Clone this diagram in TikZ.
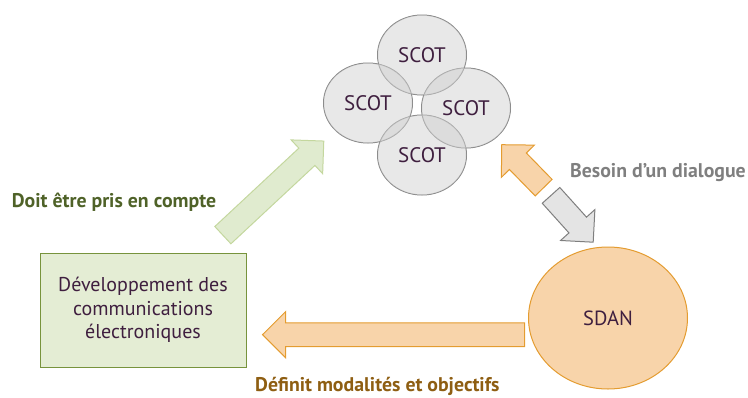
\documentclass[tikz,border=0pt]{standalone}
\usepackage{fontspec}
\setmainfont{PT Sans}
\usetikzlibrary{shapes.geometric,shapes.arrows,positioning}
\definecolor{inkpurple}{RGB}{63,31,63}
\definecolor{scotfill}{RGB}{207,207,207}
\definecolor{scotline}{RGB}{127,127,127}
\definecolor{devfill}{RGB}{228,237,212}
\definecolor{devline}{RGB}{119,147,60}
\definecolor{greenarrow}{RGB}{224,235,207}
\definecolor{greenarrowline}{RGB}{196,215,158}
\definecolor{peach}{RGB}{248,212,170}
\definecolor{orangeline}{RGB}{228,156,48}
\definecolor{grayarrow}{RGB}{228,228,228}
\definecolor{greentext}{RGB}{79,98,40}
\definecolor{graytext}{RGB}{127,127,127}
\definecolor{browntext}{RGB}{142,94,18}
\tikzstyle{scotrim} = [ellipse, draw=scotline, line width=1pt, minimum width=89pt, minimum height=80pt, inner sep=0pt]
\tikzstyle{scot} = [ellipse, minimum width=89pt, minimum height=80pt, inner sep=0pt, fill=scotfill, fill opacity=0.48, text opacity=1, text=inkpurple, font=\fontsize{21}{24}\selectfont]
\tikzstyle{sdan} = [ellipse, draw=orangeline, fill=peach, line width=1pt, minimum width=159pt, minimum height=142pt, inner sep=0pt, text=inkpurple, font=\fontsize{20.5}{24}\selectfont]
\tikzstyle{devbox} = [draw=devline, fill=devfill, rectangle, line width=1pt, minimum width=206pt, minimum height=114pt, align=center, text=inkpurple, font=\fontsize{20}{23.5}\selectfont]
\tikzstyle{blockarrow} = [single arrow, line width=1pt, inner xsep=0pt, inner ysep=11.3pt, text height=0pt, text depth=0pt, single arrow head extend=11.3pt, anchor=tail]
\tikzstyle{caption} = [inner sep=0pt, anchor=base west, font=\bfseries\fontsize{19.8}{22}\selectfont]

\begin{document}
\begin{tikzpicture}[x=1pt, y=-1pt]
    \useasboundingbox (0,0) rectangle (748,397);
    % rims of the four SCOT first, so that the fills lighten the inner arcs
    \foreach \pos [count=\i] in {{422,55}, {368,103}, {466,108}, {422,155}}
        \node[scotrim] (rim\i) at (\pos) {};
    \node[scot] (scottop) at (422,55) {SCOT};
    \node[scot] (scotleft) at (368,103) {SCOT};
    \node[scot] (scotright) at (466,108) {SCOT};
    \node[scot] (scotbottom) at (422,155) {SCOT};
    \node[sdan] (sdan) at (608,318) {SDAN};
    \node[devbox] (dev) at (143,310) {Développement des\\communications\\électroniques};
    % block arrows
    \node[blockarrow, fill=greenarrow, draw=greenarrowline, rotate=43, minimum height=138pt] (pris) at (222.5,235.5) {};
    \node[blockarrow, fill=peach, draw=orangeline, rotate=134.3, minimum height=60pt] (versscot) at (544,188) {};
    \node[blockarrow, fill=grayarrow, draw=scotline, rotate=-48, minimum height=63pt] (verssdan) at (550.7,195) {};
    \node[blockarrow, fill=peach, draw=orangeline, rotate=180, minimum height=262pt] (definit) at (525,334.7) {};
    % labels
    \node[caption, text=greentext] (prislabel) at (11.7,207.5) {Doit être pris en compte};
    \node[caption, text=graytext] (dialoguelabel) at (570,177) {Besoin d’un dialogue};
    \node[caption, text=browntext] (definitlabel) at (255,391.5) {Définit modalités et objectifs};
\end{tikzpicture}
\end{document}
